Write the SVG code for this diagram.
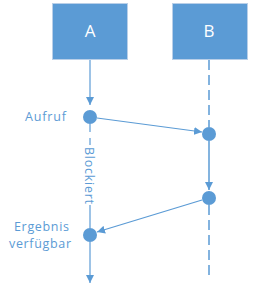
<svg xmlns="http://www.w3.org/2000/svg" width="253" height="286" viewBox="0 0 253 286">
<defs>
<style>
.box{fill:#5b9bd5;stroke:#b9cfe8;stroke-width:1}
.boxt{fill:#fff;font-family:"Open Sans","Liberation Sans",sans-serif;font-size:17px;text-anchor:middle}
.lbl{fill:#5b9bd5;font-family:"Open Sans","Liberation Sans",sans-serif;font-size:12.5px}
.life{stroke:#9dc3e6;stroke-width:2;fill:none}
.dash{stroke:#5b9bd5;stroke-width:1.5;stroke-dasharray:10 5;fill:none}
.msg{stroke:#5b9bd5;stroke-width:1.2;fill:none}
.solid{stroke:#5b9bd5;stroke-width:1.5;fill:none}
.dot{fill:#5b9bd5}
</style>
<marker id="ah" viewBox="0 0 10 10" refX="10" refY="5" markerWidth="8" markerHeight="8" markerUnits="userSpaceOnUse" orient="auto">
<path d="M0,0 L10,5 L0,10 Z" fill="#5b9bd5"/>
</marker>
</defs>
<g id="node-A">
<rect class="box" x="52.5" y="3.5" width="75" height="56"/>
<text class="boxt" x="90" y="37">A</text>
</g>
<g id="node-B">
<rect class="box" x="172.5" y="3.5" width="75" height="56"/>
<text class="boxt" x="209" y="37">B</text>
</g>
<g id="connectors">
<line class="life" x1="90" y1="60" x2="90" y2="105" marker-end="url(#ah)"/>
<line class="life" x1="90" y1="124" x2="90" y2="132"/>
<line class="life" x1="90" y1="138" x2="90" y2="145"/>
<line class="life" x1="90" y1="205" x2="90" y2="228"/>
<line class="life" x1="90" y1="242" x2="90" y2="283" marker-end="url(#ah)"/>
<line class="dash" x1="209" y1="60" x2="209" y2="127"/>
<line class="solid" x1="209" y1="141" x2="209" y2="190" marker-end="url(#ah)"/>
<line class="dash" x1="209" y1="205" x2="209" y2="280"/>
<line class="msg" x1="97" y1="118" x2="202" y2="132" marker-end="url(#ah)"/>
<line class="msg" x1="202" y1="200" x2="97" y2="232" marker-end="url(#ah)"/>
</g>
<g id="dots">
<circle class="dot" cx="90" cy="117" r="7"/>
<circle class="dot" cx="209" cy="134" r="7"/>
<circle class="dot" cx="209" cy="198" r="7"/>
<circle class="dot" cx="90" cy="235" r="7"/>
</g>
<g id="labels">
<text class="lbl" x="25" y="121" textLength="41" lengthAdjust="spacing">Aufruf</text>
<text class="lbl" x="14" y="231" textLength="55" lengthAdjust="spacing">Ergebnis</text>
<text class="lbl" x="9" y="248" textLength="62" lengthAdjust="spacing">verfügbar</text>
<text class="lbl" transform="translate(85,147) rotate(90)" x="0" y="0" textLength="57" lengthAdjust="spacing">Blockiert</text>
</g>
</svg>
